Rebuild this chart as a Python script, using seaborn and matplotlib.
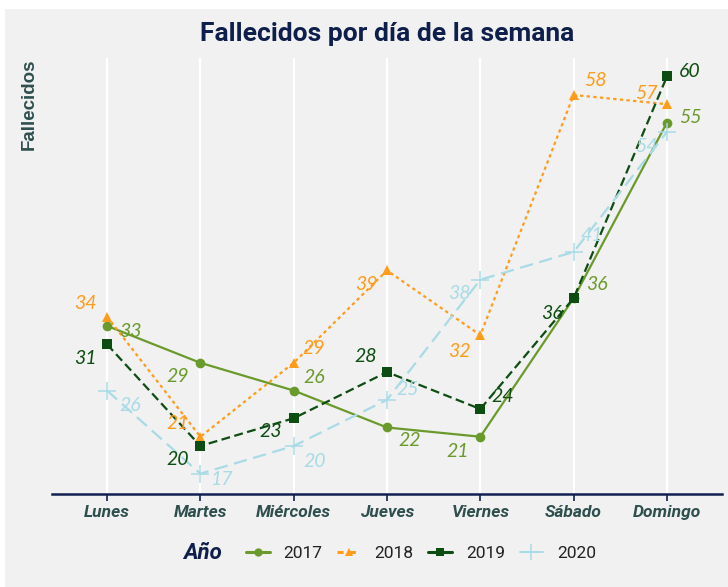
import numpy as np
import pandas as pd
import matplotlib.pyplot as plt
from matplotlib.lines import Line2D
from matplotlib.patches import Rectangle
import seaborn as sns

sns.set_theme(style='white')
plt.rcParams['font.family'] = ['Roboto', 'DejaVu Sans']

dias = ['Lunes', 'Martes', 'Miércoles', 'Jueves', 'Viernes', 'Sábado', 'Domingo']
anios = ['2017', '2018', '2019', '2020']
v2017 = [33, 29, 26, 22, 21, 36, 55]
v2018 = [34, 21, 29, 39, 32, 58, 57]
v2019 = [31, 20, 23, 28, 24, 36, 60]
v2020 = [26, 17, 20, 25, 38, 41, 54]

colores = ['#6b9a2c', '#ff9c1a', '#0e4d12', '#a9dbe6']
marcas = ['o', '^', 's', '+']
trazos = ['-', (0, (1.5, 1.5)), (0, (4, 2)), (0, (6, 3))]

df = pd.DataFrame({
    'Día': dias * 4,
    'Fallecidos': v2017 + v2018 + v2019 + v2020,
    'Año': np.repeat(anios, len(dias)),
})

# label offsets in pixels (dx, dy), per year
offs = {
    '2017': [(23, -6), (-23, -14), (21, 13), (23, -13), (-23, -15), (23, 14), (23, 5)],
    '2018': [(-22, 13), (-23, 13), (20, 14), (-21, -14), (-21, -16), (22, 14), (-21, 11)],
    '2019': [(-22, -14), (-23, -14), (-23, -13), (-21, 16), (22, 13), (-22, -15), (23, 5)],
    '2020': [(23, -15), (21, -6), (21, -16), (21, 10), (-21, -14), (18, 16), (-21, -15)],
}

fig = plt.figure(figsize=(7.28, 5.87), dpi=100, facecolor='white')
fig.patches.append(Rectangle((5 / 728, 0), 1, 1 - 9 / 587, transform=fig.transFigure,
                             facecolor='#f1f1f1', edgecolor='none', zorder=-10))
ax = fig.add_axes([52 / 728, 1 - 494 / 587, 670 / 728, 436 / 587])
ax.set_facecolor('#f1f1f1')

for a, c, m, ls in zip(anios, colores, marcas, trazos):
    d = df[df['Año'] == a]
    if m == '+':
        sns.lineplot(data=d, x='Día', y='Fallecidos', color=c, marker=m, linestyle=ls,
                     linewidth=1.6, markersize=13, markeredgewidth=1.1, markeredgecolor=c,
                     ax=ax, sort=False)
    else:
        sns.lineplot(data=d, x='Día', y='Fallecidos', color=c, marker=m, linestyle=ls,
                     linewidth=1.6, markersize=7, markeredgewidth=0, ax=ax, sort=False)

for a, vals, c in zip(anios, [v2017, v2018, v2019, v2020], colores):
    for i, v in enumerate(vals):
        dx, dy = offs[a][i]
        ax.annotate(str(v), (i, v), xytext=(dx, dy), textcoords='offset pixels',
                    ha='center', va='center', color=c, fontsize=14, style='italic',
                    family=['Lato', 'DejaVu Sans'])

ax.set_xlim(-0.59, 6.59)
ax.set_ylim(14.8, 62)
ax.set_yticks([])
ax.grid(axis='x', color='white', linewidth=1.6)
ax.grid(axis='y', visible=False)
ax.set_axisbelow(True)
for s in ['top', 'right', 'left']:
    ax.spines[s].set_visible(False)
ax.spines['bottom'].set_color('#102050')
ax.spines['bottom'].set_linewidth(1.8)
ax.tick_params(axis='x', length=5, width=1.2, color='#102050', pad=3, bottom=True)
ax.set_xticks(range(len(dias)))
ax.set_xticklabels(dias, fontsize=12.5, fontweight='bold', style='italic', color='#2f4f4f')
ax.set_xlabel('')
ax.set_ylabel('Fallecidos', fontsize=13.5, fontweight='bold', color='#2f4f4f',
              family=['Liberation Sans', 'DejaVu Sans'])
ax.yaxis.set_label_coords(-0.022, 0.894)

fig.text(387 / 728, 1 - 34 / 587, 'Fallecidos por día de la semana', ha='center', va='center',
         fontsize=19, fontweight='bold', color='#0f1f4b')

handles = [Line2D([], [], color=c, marker=m, linestyle='-' if i != 1 else (0, (2, 2)),
                  markersize=6 if m != '+' else 11, markeredgewidth=0 if m != '+' else 1.1,
                  linewidth=2.2 if i != 3 else 1.4)
           for i, (c, m) in enumerate(zip(colores, marcas))]
fig.text(203 / 728, 1 - 553 / 587, 'Año', ha='center', va='center', fontsize=16,
         fontweight='bold', style='italic', color='#0f1f4b')
leg = fig.legend(handles, anios, loc='center left', bbox_to_anchor=(234 / 728, 1 - 553 / 587),
                 ncol=4, frameon=False, fontsize=12.5, handlelength=1.35, columnspacing=0.85,
                 handletextpad=0.8, borderpad=0.2)
for t in leg.get_texts():
    t.set_color('#222222')

fig.savefig('out.png', dpi=100, facecolor='white')
